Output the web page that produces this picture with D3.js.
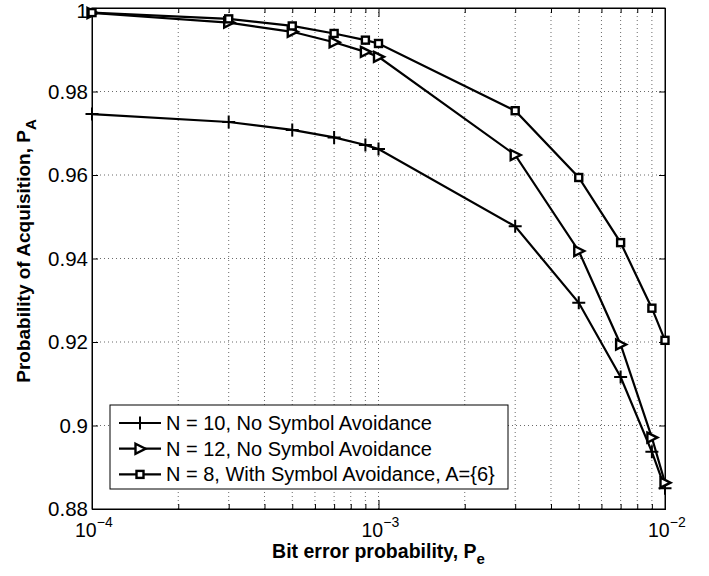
<!DOCTYPE html>
<html>
<head>
<meta charset="utf-8">
<script src="https://cdn.jsdelivr.net/npm/d3@7"></script>
<style>
  body { margin: 0; background: #fff; }
  text { font-family: "Liberation Sans", Arial, Helvetica, sans-serif; }
</style>
</head>
<body>
<svg width="709" height="576"></svg>
<script>

// bit error probability (x)
let pe = [1e-4, 3e-4, 5e-4, 7e-4, 9e-4, 1e-3, 3e-3, 5e-3, 7e-3, 9e-3, 1e-2]

// probability of acquisition for each curve
let n10NoAvoid = [0.9746, 0.9727, 0.9708, 0.9690, 0.9672, 0.9662, 0.9477, 0.9294, 0.9116, 0.8937, 0.8850]
let n12NoAvoid = [0.9988, 0.9965, 0.9943, 0.9918, 0.9895, 0.9883, 0.9648, 0.9418, 0.9194, 0.8971, 0.8863]
let n8Avoid    = [0.9989, 0.9974, 0.9957, 0.9939, 0.9923, 0.9915, 0.9754, 0.9594, 0.9438, 0.9281, 0.9204]

let seriesNames = [
  'N = 10, No Symbol Avoidance',
  'N = 12, No Symbol Avoidance',
  'N = 8, With Symbol Avoidance, A={6}'
]
let seriesMarkers = ['plus', 'triangle', 'square']

let yTicks = [0.88, 0.9, 0.92, 0.94, 0.96, 0.98, 1]
let xMajor = [1e-4, 1e-3, 1e-2]
let xMajorExp = ['\u22124', '\u22123', '\u22122']

let svg = d3.select('svg')
let margin = { left: 92, top: 8, right: 44, bottom: 67 }
let width = 709 - margin.left - margin.right
let height = 576 - margin.top - margin.bottom

let x = d3.scaleLog().domain([1e-4, 1e-2]).range([0, width])
let y = d3.scaleLinear().domain([0.88, 1]).range([height, 0])

let xMinor = []
;[1e-4, 1e-3].forEach(d => {
  for (let k = 2; k <= 9; k++) xMinor.push(d * k)
})
let xAll = xMinor.concat(xMajor)

let g = svg.append('g').attr('transform', `translate(${margin.left},${margin.top})`)

// grid
g.append('g').selectAll('line')
  .data(xAll.filter(d => d > 1e-4 && d < 1e-2))
  .enter().append('line')
  .attr('x1', d => x(d)).attr('x2', d => x(d))
  .attr('y1', 0).attr('y2', height)
  .attr('stroke', '#444').attr('stroke-width', 0.8)
  .attr('stroke-dasharray', '1,3')

g.append('g').selectAll('line')
  .data(yTicks.filter(d => d > 0.88 && d < 1))
  .enter().append('line')
  .attr('x1', 0).attr('x2', width)
  .attr('y1', d => y(d)).attr('y2', d => y(d))
  .attr('stroke', '#444').attr('stroke-width', 0.8)
  .attr('stroke-dasharray', '1,3')

// axes
let fmtY = d => String(+d.toFixed(2))

g.append('g').attr('class', 'yaxis')
  .call(d3.axisLeft(y).tickValues(yTicks).tickFormat(fmtY).tickSize(-6).tickPadding(4))
g.append('g').attr('transform', `translate(${width},0)`)
  .call(d3.axisRight(y).tickValues(yTicks).tickFormat('').tickSize(-6))

g.append('g').attr('transform', `translate(0,${height})`).attr('class', 'xaxis')
  .call(d3.axisBottom(x).tickValues(xMajor).tickFormat('').tickSize(-9))
g.append('g').attr('transform', `translate(0,${height})`)
  .call(d3.axisBottom(x).tickValues(xMinor).tickFormat('').tickSize(-5))
g.append('g')
  .call(d3.axisTop(x).tickValues(xMajor).tickFormat('').tickSize(-9))
g.append('g')
  .call(d3.axisTop(x).tickValues(xMinor).tickFormat('').tickSize(-5))

g.selectAll('.domain').attr('stroke', '#000').attr('stroke-width', 1)
g.selectAll('.tick line').attr('stroke', '#000')
g.selectAll('.yaxis text').attr('font-size', 20.5).attr('fill', '#000')
  .attr('dy', d => d === 1 ? '0.45em' : '0.34em')

// x tick labels: 10^k
let xl = g.append('g').selectAll('text')
  .data(xMajor)
  .enter().append('text')
  .attr('x', d => x(d) - 17)
  .attr('y', height + 28)
  .attr('font-size', 19.5)
xl.append('tspan').text('10')
xl.append('tspan').attr('dy', -10).attr('font-size', 14).text((d, i) => xMajorExp[i])

// frame
g.append('rect').attr('width', width).attr('height', height)
  .attr('fill', 'none').attr('stroke', '#000').attr('stroke-width', 1)

// axis titles
let xt = svg.append('text')
  .attr('x', margin.left + width / 2)
  .attr('y', 558)
  .attr('text-anchor', 'middle')
  .attr('font-weight', 'bold').attr('font-size', 19.5)
xt.append('tspan').text('Bit error probability, P')
xt.append('tspan').attr('dy', 6).attr('font-size', 15).text('e')

let yt = svg.append('text')
  .attr('transform', 'translate(30,251) rotate(-90)')
  .attr('text-anchor', 'middle')
  .attr('font-weight', 'bold').attr('font-size', 19)
yt.append('tspan').text('Probability of Acquisition, P')
yt.append('tspan').attr('dy', 6).attr('font-size', 15).text('A')

// curves
let allSeries = [n10NoAvoid, n12NoAvoid, n8Avoid]

let line = d3.line()
  .x((d, i) => x(pe[i]))
  .y(d => y(d))

function drawMarker(sel, type) {
  if (type === 'plus') {
    sel.append('path').attr('d', 'M-6.5,0H6.5M0,-6.5V6.5')
      .attr('stroke', '#000').attr('stroke-width', 2).attr('fill', 'none')
  } else if (type === 'triangle') {
    sel.append('path').attr('d', 'M-4.5,-5L5.5,0L-4.5,5Z')
      .attr('stroke', '#000').attr('stroke-width', 2.4).attr('fill', '#fff')
  } else {
    sel.append('rect').attr('x', -3.5).attr('y', -3.5).attr('width', 7).attr('height', 7)
      .attr('stroke', '#000').attr('stroke-width', 2.4).attr('fill', '#fff')
  }
}

allSeries.forEach((vals, s) => {
  g.append('path')
    .datum(vals)
    .attr('d', line)
    .attr('fill', 'none')
    .attr('stroke', '#000')
    .attr('stroke-width', 2.2)

  g.append('g').selectAll('g')
    .data(vals)
    .enter().append('g')
    .attr('transform', (d, i) => `translate(${x(pe[i])},${y(d)})`)
    .each(function () { drawMarker(d3.select(this), seriesMarkers[s]) })
})

// legend
let lg = svg.append('g').attr('transform', 'translate(110,405)')
lg.append('rect').attr('width', 398).attr('height', 84)
  .attr('fill', '#fff').attr('stroke', '#000').attr('stroke-width', 1)

seriesNames.forEach((name, i) => {
  let row = lg.append('g').attr('transform', `translate(0,${18 + i * 25.7})`)
  row.append('line').attr('x1', 9).attr('x2', 51)
    .attr('stroke', '#000').attr('stroke-width', 2.2)
  let m = row.append('g').attr('transform', 'translate(30,0)')
  drawMarker(m, seriesMarkers[i])
  row.append('text').attr('x', 56).attr('y', 7)
    .attr('font-size', 20).text(name)
})

</script>
</body>
</html>
